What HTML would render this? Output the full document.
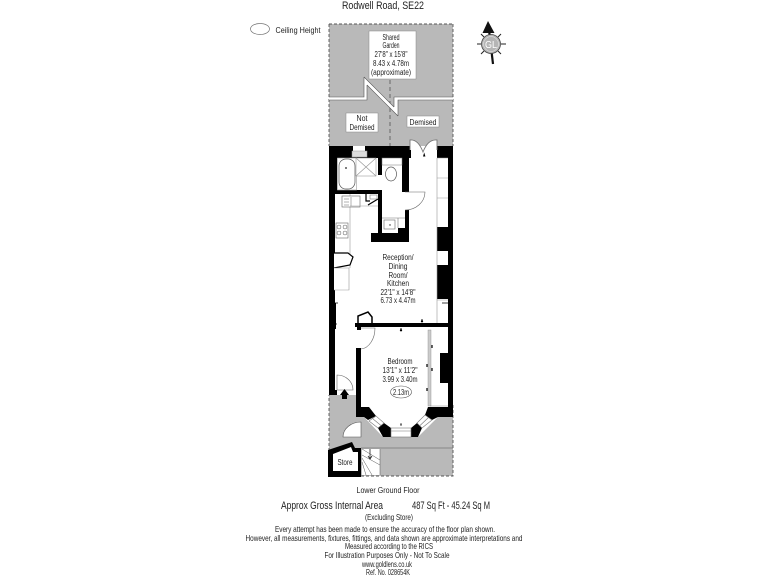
<!DOCTYPE html>
<html><head><meta charset="utf-8"><style>
html,body{margin:0;padding:0;background:#fff;width:768px;height:576px;overflow:hidden}
svg{display:block}
text{font-family:"Liberation Sans",sans-serif;fill:#222;text-anchor:middle}
</style></head><body>
<svg width="768" height="576" viewBox="0 0 768 576">
<rect width="768" height="576" fill="#fff"/>
<!-- header -->
<text x="383" y="9" font-size="11" textLength="82" lengthAdjust="spacingAndGlyphs">Rodwell Road, SE22</text>
<ellipse cx="260" cy="29" rx="9.5" ry="5.5" fill="#fff" stroke="#777" stroke-width=".7"/>
<text x="298" y="33" font-size="8.5" textLength="45" lengthAdjust="spacingAndGlyphs">Ceiling Height</text>
<!-- compass -->
<g stroke="#222" stroke-width="1" fill="none">
<path d="M477 44h4M501 44h5M481 34l3 3M501 34l-3 3M481 54l3-3M501 54l-3-3M491 30v3"/>
</g>
<path d="M493 64L489 30" stroke="#111" stroke-width="2.200"/>
<path d="M488 21L494.500 33L482.500 33Z" fill="#111"/>
<circle cx="491" cy="44" r="9.500" fill="#b5b5b5" stroke="#444" stroke-width=".8"/>
<circle cx="491" cy="44" r="7.500" fill="none" stroke="#eee" stroke-width=".5"/>
<text x="491" y="48" font-size="10" style="fill:#fff" textLength="12" lengthAdjust="spacingAndGlyphs">GL</text>
<!-- grey grounds -->
<rect x="329" y="24" width="124" height="124" fill="#b9b9b9"/>
<path d="M329 24H453M329 24V146M453 24V146" fill="none" stroke="#555" stroke-width=".9" stroke-dasharray="3 2"/>
<path d="M390 80V146" stroke="#666" stroke-width="1" stroke-dasharray="4 3"/>
<polygon points="329,97 364,97 364,77 394,107 394,97 453,97 453,100 398,100 398,116 367,85 367,100 329,100" fill="#fff"/>
<path d="M329 97H364V77M367 85V100H329M398 116V100H453M394 107V97H453M364 77L394 107M367 85L398 116" fill="none" stroke="#555" stroke-width=".6"/>
<!-- label boxes -->
<rect x="369" y="31" width="47" height="48" fill="#fff" stroke="#888" stroke-width=".5"/>
<g font-size="8">
<text x="391" y="40" textLength="17" lengthAdjust="spacingAndGlyphs">Shared</text>
<text x="391" y="48" textLength="17" lengthAdjust="spacingAndGlyphs">Garden</text>
<text x="391" y="57" textLength="33" lengthAdjust="spacingAndGlyphs">27'8" x 15'8"</text>
<text x="391" y="66" textLength="36" lengthAdjust="spacingAndGlyphs">8.43 x 4.78m</text>
<text x="391" y="75" textLength="40" lengthAdjust="spacingAndGlyphs">(approximate)</text>
</g>
<rect x="346" y="113" width="32" height="19" fill="#fff" stroke="#888" stroke-width=".5"/>
<text x="362" y="121" font-size="8" textLength="11" lengthAdjust="spacingAndGlyphs">Not</text>
<text x="362" y="130" font-size="8" textLength="25" lengthAdjust="spacingAndGlyphs">Demised</text>
<rect x="407" y="116" width="32" height="11" fill="#fff" stroke="#888" stroke-width=".5"/>
<text x="423" y="125" font-size="8" textLength="27" lengthAdjust="spacingAndGlyphs">Demised</text>

<!-- house white interior -->
<rect x="331" y="148" width="120" height="247" fill="#fff"/>
<rect x="361" y="327" width="87" height="80" fill="#fff"/>
<polygon points="361,405 448,405 428,428 411,437 391,437 378,428" fill="#fff"/>

<!-- lower grey ground -->
<polygon points="329,395 356,395 356,417 364,417 383,437 418,437 438,417 453,417 453,476 329,476" fill="#b9b9b9"/>
<path d="M453 405V476H329V395" fill="none" stroke="#555" stroke-width=".9" stroke-dasharray="3 2"/>
<path d="M361 448H453" stroke="#777" stroke-width=".7"/>
<!-- stairs -->
<rect x="362" y="449" width="18" height="26" fill="#fff"/>
<path d="M362 455L380 465M362 449L380 460M362 458L372 475M362 462L366 475M380 449V475" stroke="#555" stroke-width=".5" fill="none"/>
<path d="M370 449V459M368 456l2 3 2-3" stroke="#222" stroke-width=".8" fill="none"/>

<!-- walls -->
<g fill="#000">
<rect x="329" y="146" width="82" height="12"/>
<rect x="437" y="146" width="16" height="12"/>
<rect x="448" y="146" width="5" height="262"/>
<rect x="329" y="146" width="8" height="44"/>
<rect x="329" y="190" width="6" height="205"/>
<rect x="329" y="303" width="7" height="26"/>
<rect x="329" y="390" width="8" height="5"/>
<rect x="335" y="190" width="47" height="4"/>
<rect x="378" y="158" width="4" height="17"/>
<rect x="378" y="190" width="4" height="48"/>
<rect x="402" y="158" width="7" height="34"/>
<rect x="405" y="210" width="4" height="32"/>
<rect x="398" y="228" width="11" height="6"/>
<rect x="371" y="233" width="38" height="9"/>
<rect x="437" y="227" width="11" height="24"/>
<rect x="437" y="265" width="11" height="34"/>
<rect x="355" y="323" width="93" height="4"/>
<rect x="357" y="327" width="4" height="3"/>
<rect x="356" y="348" width="5" height="60"/>
<rect x="440" y="353" width="8" height="30"/>
<polygon points="356,407 369,407 376,416 368,420 364,417 356,417"/>
<polygon points="378,428 384,423 391,428 391,437 383,437"/>
<polygon points="411,428 417,423 422,428 418,437 411,437"/>
<polygon points="428,407 453,407 453,417 438,417 432,420 425,415"/>
<!-- store -->
<polygon points="328,450 352,442 355,448 361,448 361,477 328,477"/>
</g>
<polygon points="333,454 351,447 353,452 358,452 358,471 333,471" fill="#fff"/>
<text x="345" y="465" font-size="8" textLength="15" lengthAdjust="spacingAndGlyphs">Store</text>
<!-- store door -->
<path d="M361 422V437H343A18 15 0 0 1 361 422Z" fill="#fff" stroke="#555" stroke-width=".6"/>
<!-- bay windows -->
<g fill="#fff" stroke="#777" stroke-width=".6">
<polygon points="369,421 376,416 384,423 378,428"/>
<rect x="391" y="428" width="20" height="9"/>
<polygon points="417,423 425,415 432,420 422,428"/>
</g>
<path d="M391 431H411M372.500 418.500L381 425.500M420 425.500L428.500 417.500" stroke="#777" stroke-width=".6"/>
<path d="M401 426v-2M400 424h2" stroke="#222" stroke-width=".8"/>
<!-- french doors -->
<rect x="411" y="146" width="26" height="13" fill="#fff"/>
<path d="M410 150V140Q418 139 423 152Q428 139 437 140V150" fill="#fff" stroke="#777" stroke-width=".9"/>
<path d="M423 156.500l1.200-4 1.200 4z" fill="#000"/>
<!-- window top -->
<rect x="353" y="146" width="12" height="5" fill="#fff"/>
<rect x="352" y="151" width="15" height="6" fill="#ddd" stroke="#999" stroke-width=".5"/>
<!-- bathroom -->
<rect x="337" y="158" width="41" height="32" fill="#fff"/>
<rect x="337.500" y="158" width="19" height="32" fill="#fff" stroke="#999" stroke-width=".6"/>
<rect x="339" y="159" width="16" height="30" rx="7" fill="#fff" stroke="#555" stroke-width=".7"/>
<circle cx="346" cy="168" r=".9" fill="#222"/>
<rect x="356" y="158" width="20" height="18" fill="#fff" stroke="#888" stroke-width=".5"/>
<path d="M356 158L376 176M376 158L356 176" stroke="#999" stroke-width=".7"/>
<rect x="382" y="158" width="20" height="7" fill="#fff" stroke="#777" stroke-width=".5"/>
<ellipse cx="391" cy="174" rx="5.500" ry="7" fill="#fff" stroke="#555" stroke-width=".7"/>
<!-- door near wc -->
<path d="M405 192H425A20 18 0 0 1 405 210" fill="#fff" stroke="#666" stroke-width=".6"/>
<!-- counters -->
<path d="M350 194V268" fill="none" stroke="#999" stroke-width=".6"/>
<rect x="342" y="196" width="18" height="11" fill="#fff" stroke="#666" stroke-width=".6"/>
<path d="M344 199h5M344 202h5M344 205h5M351 197v9" stroke="#666" stroke-width=".5"/>
<rect x="336" y="223" width="12" height="15" fill="#fff" stroke="#666" stroke-width=".6"/>
<g fill="none" stroke="#555" stroke-width=".5"><circle cx="339" cy="227" r="2"/><circle cx="345" cy="227" r="2"/><circle cx="339" cy="233" r="2"/><circle cx="345" cy="233" r="2"/></g>
<path d="M366 194V201H370M368 205L378 199" fill="none" stroke="#000" stroke-width="1.200"/>
<rect x="370" y="195" width="7" height="4" fill="#fff" stroke="#666" stroke-width=".5"/>
<path d="M350 206H378" stroke="#999" stroke-width=".5"/>
<!-- utility unit -->
<path d="M382 218H405M398 218V228" stroke="#777" stroke-width=".6" fill="none"/>
<rect x="384" y="220" width="11" height="9" fill="#fff" stroke="#666" stroke-width=".6"/>
<circle cx="390" cy="225" r=".7" fill="#222"/>
<!-- right units -->
<path d="M437 158V323M437 158H448M437 178H448M437 198H448M437 300H448" stroke="#999" stroke-width=".6" fill="none"/>
<path d="M334 253H348L353 257L350 265L334 268" fill="#fff" stroke="#000" stroke-width="1.200"/>
<path d="M334 268H349V290H334" stroke="#999" stroke-width=".6" fill="#fff"/>
<!-- small markers -->
<path d="M334 303h4M334 324h3M442 303H448" stroke="#000" stroke-width=".8"/>
<path d="M421 322l1-3 1 3zM400 331l1-3 1 3z" fill="#000" stroke="#000" stroke-width=".5"/>
<!-- door mid -->
<path d="M358 323V316L368 312L372 317V323" fill="#fff" stroke="#000" stroke-width="1.500"/>
<path d="M361 328H375A15 21 0 0 1 361 349" fill="#fff" stroke="#666" stroke-width=".6"/>
<!-- wardrobe -->
<rect x="428" y="330" width="3" height="76" fill="#ccc" stroke="#888" stroke-width=".4"/>
<path d="M430 406H448" stroke="#888" stroke-width=".5" fill="none"/>
<path d="M432 345v3M427 364v3M432 368v3M427 388v3" stroke="#000" stroke-width="1.200"/>
<!-- hallway door -->
<path d="M337 375A16 15 0 0 1 353 390H337Z" fill="#fff" stroke="#666" stroke-width=".6"/>
<rect x="342" y="394" width="5" height="5" fill="#000"/><path d="M344.500 389L349 395H340Z" fill="#000"/>
<!-- room labels -->
<g font-size="8.500">
<text x="398" y="260" textLength="31" lengthAdjust="spacingAndGlyphs">Reception/</text>
<text x="398" y="269" textLength="19" lengthAdjust="spacingAndGlyphs">Dining</text>
<text x="398" y="278" textLength="19" lengthAdjust="spacingAndGlyphs">Room/</text>
<text x="398" y="286" textLength="22" lengthAdjust="spacingAndGlyphs">Kitchen</text>
<text x="398" y="295" textLength="35" lengthAdjust="spacingAndGlyphs">22'1" x 14'8"</text>
<text x="398" y="303" textLength="35" lengthAdjust="spacingAndGlyphs">6.73 x 4.47m</text>
<text x="400" y="364" textLength="25" lengthAdjust="spacingAndGlyphs">Bedroom</text>
<text x="400" y="373" textLength="35" lengthAdjust="spacingAndGlyphs">13'1" x 11'2"</text>
<text x="400" y="382" textLength="35" lengthAdjust="spacingAndGlyphs">3.99 x 3.40m</text>
</g>
<ellipse cx="401" cy="392" rx="10.500" ry="6" fill="#fff" stroke="#555" stroke-width=".6"/>
<text x="401" y="395" font-size="8" textLength="16" lengthAdjust="spacingAndGlyphs">2.13m</text>
<!-- footer -->
<text x="388" y="493" font-size="8.500" textLength="63" lengthAdjust="spacingAndGlyphs">Lower Ground Floor</text>
<text x="332" y="509" font-size="11" textLength="102" lengthAdjust="spacingAndGlyphs">Approx Gross Internal Area</text>
<text x="451" y="509" font-size="11" textLength="78" lengthAdjust="spacingAndGlyphs">487 Sq Ft  -  45.24 Sq M</text>
<text x="389" y="520" font-size="8.500" textLength="48" lengthAdjust="spacingAndGlyphs">(Excluding Store)</text>
<g font-size="8.500">
<text x="385" y="532" textLength="220" lengthAdjust="spacingAndGlyphs">Every attempt has been made to ensure the accuracy of the floor plan shown.</text>
<text x="384" y="541" textLength="277" lengthAdjust="spacingAndGlyphs">However, all measurements, fixtures, fittings, and data shown are approximate interpretations and</text>
<text x="389" y="549" textLength="88" lengthAdjust="spacingAndGlyphs">Measured according to the RICS</text>
<text x="387" y="558" textLength="125" lengthAdjust="spacingAndGlyphs">For Illustration Purposes Only - Not To Scale</text>
<text x="387" y="567" textLength="50" lengthAdjust="spacingAndGlyphs">www.goldlens.co.uk</text>
<text x="388" y="575" textLength="44" lengthAdjust="spacingAndGlyphs">Ref. No. 028654K</text>
</g>
</svg>
</body></html>
